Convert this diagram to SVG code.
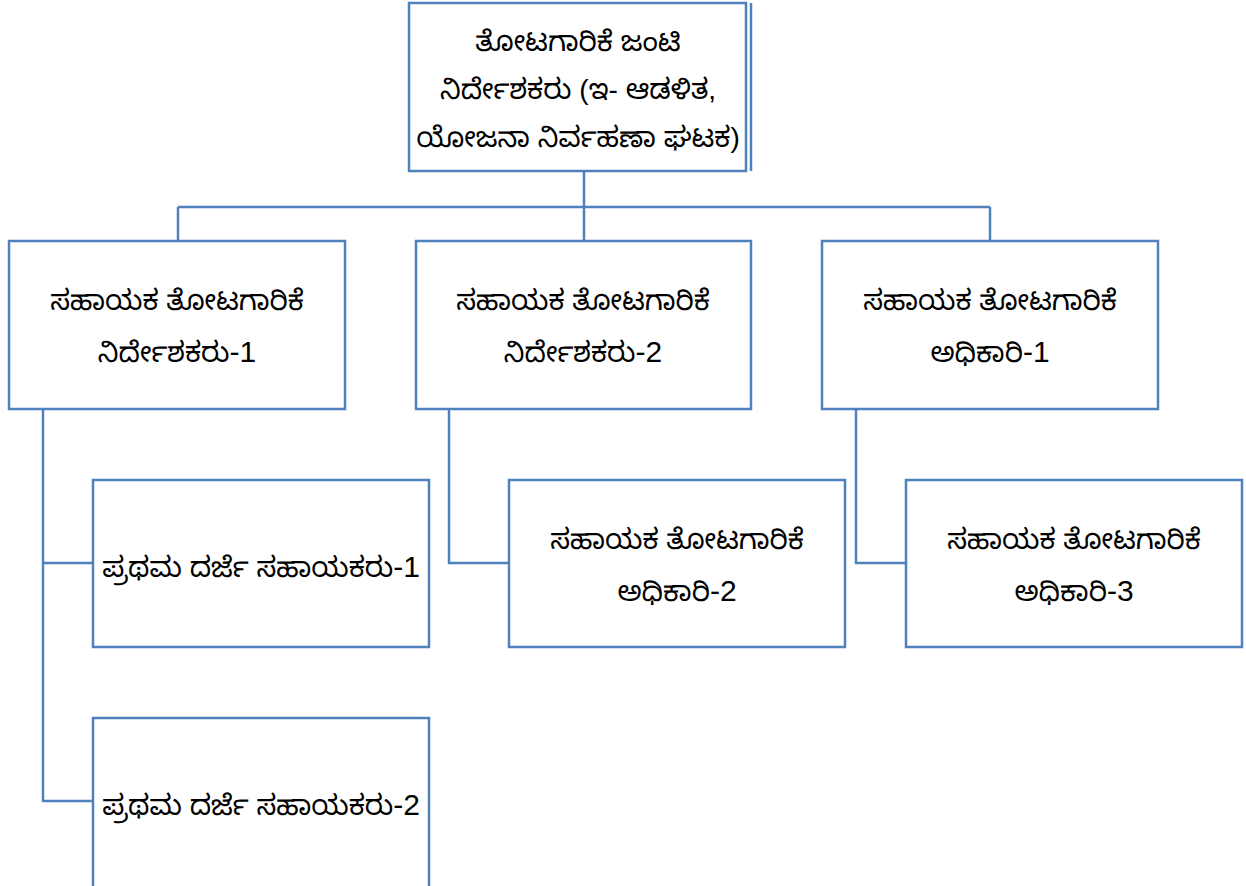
<svg xmlns="http://www.w3.org/2000/svg" width="1246" height="886" viewBox="0 0 1246 886">
<style>
.box{fill:#fff;stroke:#4F81BD;stroke-width:2.5}
.ln{fill:none;stroke:#4F81BD;stroke-width:2.5}
text{font-family:"Liberation Sans","Noto Sans Kannada","Noto Sans",sans-serif;font-size:28px;fill:#000;text-anchor:middle}
.d{font-size:30px}
</style>
<rect width="1246" height="886" fill="#fff"/>
<g id="connectors">
<path class="ln" d="M584 171V207M178 207H990M178 207V241M584 207V241M990 207V241"/>
<path class="ln" d="M43 409V801H93M43 563H93"/>
<path class="ln" d="M449 409V563H509"/>
<path class="ln" d="M856 409V563H906"/>
</g>
<g id="n0">
<rect class="box" x="409" y="3" width="337" height="168"/>
<line class="ln" x1="751" y1="3" x2="751" y2="171"/>
<text x="578" y="51">ತೋಟಗಾರಿಕೆ ಜಂಟಿ</text>
<text x="578" y="99">ನಿರ್ದೇಶಕರು (ಇ- ಆಡಳಿತ,</text>
<text x="578" y="147">ಯೋಜನಾ ನಿರ್ವಹಣಾ ಘಟಕ)</text>
</g>
<g id="n1">
<rect class="box" x="9" y="241" width="336" height="168"/>
<text x="177" y="310">ಸಹಾಯಕ ತೋಟಗಾರಿಕೆ</text>
<text x="177" y="362">ನಿರ್ದೇಶಕರು<tspan class="d">-1</tspan></text>
</g>
<g id="n2">
<rect class="box" x="416" y="241" width="335" height="168"/>
<text x="583" y="310">ಸಹಾಯಕ ತೋಟಗಾರಿಕೆ</text>
<text x="583" y="362">ನಿರ್ದೇಶಕರು<tspan class="d">-2</tspan></text>
</g>
<g id="n3">
<rect class="box" x="822" y="241" width="336" height="168"/>
<text x="990" y="310">ಸಹಾಯಕ ತೋಟಗಾರಿಕೆ</text>
<text x="990" y="362">ಅಧಿಕಾರಿ<tspan class="d">-1</tspan></text>
</g>
<g id="n4">
<rect class="box" x="93" y="480" width="336" height="167"/>
<text x="261" y="577">ಪ್ರಥಮ ದರ್ಜೆ ಸಹಾಯಕರು<tspan class="d">-1</tspan></text>
</g>
<g id="n5">
<rect class="box" x="93" y="718" width="336" height="170"/>
<text x="261" y="815">ಪ್ರಥಮ ದರ್ಜೆ ಸಹಾಯಕರು<tspan class="d">-2</tspan></text>
</g>
<g id="n6">
<rect class="box" x="509" y="480" width="336" height="167"/>
<text x="677" y="549">ಸಹಾಯಕ ತೋಟಗಾರಿಕೆ</text>
<text x="677" y="601">ಅಧಿಕಾರಿ<tspan class="d">-2</tspan></text>
</g>
<g id="n7">
<rect class="box" x="906" y="480" width="336" height="167"/>
<text x="1074" y="549">ಸಹಾಯಕ ತೋಟಗಾರಿಕೆ</text>
<text x="1074" y="601">ಅಧಿಕಾರಿ<tspan class="d">-3</tspan></text>
</g>
</svg>
